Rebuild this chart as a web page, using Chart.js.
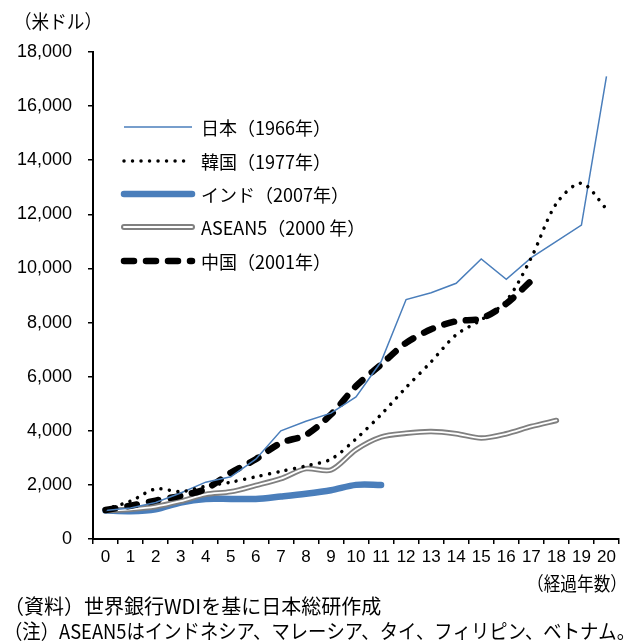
<!DOCTYPE html>
<html lang="ja">
<head>
<meta charset="utf-8">
<title>一人当たりGDPの推移</title>
<script src="https://cdn.jsdelivr.net/npm/chart.js@4/dist/chart.umd.min.js"></script>
<style>
  html, body { margin: 0; padding: 0; background: #fff; }
  #chart { display: block; }
</style>
</head>
<body>
<canvas id="chart" width="639" height="642"></canvas>
<script>
// 経過年数
const years = ['0','1','2','3','4','5','6','7','8','9','10','11','12','13','14','15','16','17','18','19','20'];

// 一人当たりGDP（米ドル）
const japan  = [1050, 1150, 1350, 1700, 2100, 2300, 2950, 4000, 4350, 4650, 5250, 6550, 8850, 9100, 9450, 10350, 9600, 10400, 11000, 11600, 17100];
const korea  = [1100, 1400, 1850, 1750, 1950, 2100, 2300, 2500, 2700, 2950, 3700, 4600, 5600, 6550, 7550, 8100, 8800, 10400, 12400, 13150, 12200];
const india  = [1050, 1030, 1100, 1350, 1480, 1480, 1480, 1570, 1670, 1800, 2000, 2000];
const asean5 = [1050, 1100, 1200, 1400, 1650, 1750, 1980, 2230, 2600, 2550, 3300, 3770, 3910, 3970, 3890, 3730, 3890, 4160, 4380];
const china  = [1070, 1230, 1420, 1600, 1850, 2450, 2950, 3550, 3850, 4600, 5650, 6450, 7250, 7750, 8050, 8150, 8700, 9550];

const seriesNames = ['日本（1966年）', '韓国（1977年）', 'インド（2007年）', 'ASEAN5（2000 年）', '中国（2001年）'];

const yTicks = [0, 2000, 4000, 6000, 8000, 10000, 12000, 14000, 16000, 18000];

const unitLabel  = '（米ドル）';
const xAxisTitle = '（経過年数）';
const notes = [
  '（資料）世界銀行WDIを基に日本総研作成',
  '（注）ASEAN5はインドネシア、マレーシア、タイ、フィリピン、ベトナム。'
];

const BLUE = '#4a7ebb';
const JP_FONT = '"Noto Sans CJK JP", "Noto Sans", sans-serif';
const NUM_FONT = '"Liberation Sans", Arial, sans-serif';

// legend samples + extra texts drawn on the canvas
const extrasPlugin = {
  id: 'extras',
  afterDraw(chart) {
    const ctx = chart.ctx;
    const rows = [127, 161, 194, 227, 261];
    const x1 = 124, x2 = 192;

    const sample = (y, color, width, dash, cap) => {
      ctx.save();
      ctx.strokeStyle = color;
      ctx.lineWidth = width;
      ctx.lineCap = cap || 'butt';
      ctx.setLineDash(dash || []);
      ctx.beginPath();
      ctx.moveTo(x1, y);
      ctx.lineTo(x2, y);
      ctx.stroke();
      ctx.restore();
    };

    sample(rows[0], BLUE, 1.5);
    sample(rows[1], '#000', 3.5, [0.01, 8.5], 'round');
    sample(rows[2], BLUE, 6.5, [], 'round');
    sample(rows[3], '#808080', 6, [], 'round');
    sample(rows[3], '#fff', 2, [], 'round');
    sample(rows[4], '#000', 6.5, [10, 12], 'round');

    ctx.save();
    ctx.fillStyle = '#000';
    ctx.textBaseline = 'middle';
    ctx.font = '18px ' + JP_FONT;
    seriesNames.forEach((name, i) => ctx.fillText(name, 201, rows[i] + 1));

    ctx.font = '19px ' + JP_FONT;
    ctx.fillText(unitLabel, 14, 22, 88);
    ctx.fillText(xAxisTitle, 527, 584, 100);
    ctx.font = '20px ' + JP_FONT;
    ctx.fillText(notes[0], 4, 606, 385);
    ctx.fillText(notes[1], 4, 631, 631);
    ctx.restore();
  }
};

const smooth = 0.3;

new Chart(document.getElementById('chart').getContext('2d'), {
  type: 'line',
  data: {
    labels: years,
    datasets: [
      { label: seriesNames[0], data: japan, borderColor: BLUE, borderWidth: 1.5, tension: 0, order: 1 },
      { label: seriesNames[1], data: korea, borderColor: '#000', borderWidth: 3.5,
        borderDash: [0.01, 8.5], borderCapStyle: 'round', tension: smooth, order: 0 },
      { label: seriesNames[2], data: india, borderColor: BLUE, borderWidth: 6.5,
        borderCapStyle: 'round', borderJoinStyle: 'round', tension: smooth, order: 4 },
      { label: seriesNames[3], data: asean5, borderColor: '#808080', borderWidth: 5.5,
        borderCapStyle: 'round', borderJoinStyle: 'round', tension: smooth, order: 3 },
      { label: 'asean5-inner', data: asean5, borderColor: '#fff', borderWidth: 1.8,
        borderCapStyle: 'round', borderJoinStyle: 'round', tension: smooth, order: 2 },
      { label: seriesNames[4], data: china, borderColor: '#000', borderWidth: 6.5,
        borderDash: [10, 12], borderCapStyle: 'round', tension: smooth, order: 1 }
    ]
  },
  options: {
    responsive: false,
    animation: false,
    layout: { padding: { top: 52, right: 20, bottom: 73, left: 0 } },
    elements: { point: { radius: 0, hoverRadius: 0 } },
    plugins: {
      legend: { display: false },
      tooltip: { enabled: false }
    },
    scales: {
      x: {
        offset: true,
        afterFit: s => { s.height = 30; },
        grid: { offset: true, drawOnChartArea: false, drawTicks: true, tickLength: 5, color: '#000', lineWidth: 1.5 },
        border: { display: true, color: '#000', width: 2 },
        ticks: { color: '#000', padding: 3, maxRotation: 0, autoSkip: false, font: { family: NUM_FONT, size: 17 } }
      },
      y: {
        min: 0,
        max: 18000,
        afterFit: s => { s.width = 93; },
        afterBuildTicks: s => { s.ticks = yTicks.map(v => ({ value: v })); },
        grid: { drawOnChartArea: false, drawTicks: true, tickLength: 5, color: '#000', lineWidth: 1.5 },
        border: { display: true, color: '#000', width: 2 },
        ticks: {
          color: '#000',
          padding: 16,
          font: { family: NUM_FONT, size: 18 },
          callback: v => v.toLocaleString('en-US')
        }
      }
    }
  },
  plugins: [extrasPlugin]
});
</script>
</body>
</html>
